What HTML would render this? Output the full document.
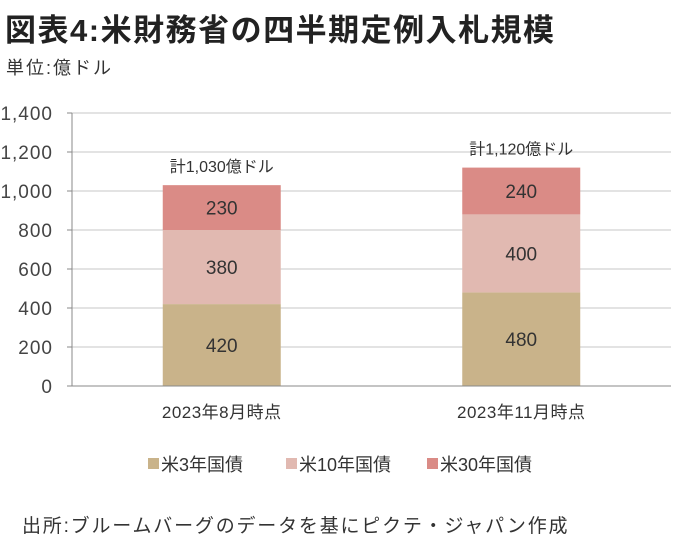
<!DOCTYPE html>
<html><head><meta charset="utf-8">
<style>
body{margin:0;width:684px;height:546px;background:#fff;overflow:hidden;font-family:"Liberation Sans","Noto Sans CJK JP",sans-serif;color:#333}
.t{position:absolute;white-space:nowrap}
</style></head>
<body>
<div class="t" style="left:5px;top:5px;font-size:31px;font-weight:bold;color:#222;letter-spacing:1.5px">図表4:米財務省の四半期定例入札規模</div>
<div class="t" style="left:6px;top:54px;font-size:18px;letter-spacing:2px">単位:億ドル</div>
<svg id="c" width="684" height="546" style="position:absolute;left:0;top:0"></svg>
<div class="t" style="left:22px;top:511px;font-size:19px;letter-spacing:1.8px">出所:ブルームバーグのデータを基にピクテ・ジャパン作成</div>
<script>
const categories=["2023年8月時点","2023年11月時点"];
const s3y=[420,480];
const s10y=[380,400];
const s30y=[230,240];
const totals=["計1,030億ドル","計1,120億ドル"];
const ticks=[0,200,400,600,800,1000,1200,1400];
const tickLabels=["0","200","400","600","800","1,000","1,200","1,400"];
const seriesNames=["米3年国債","米10年国債","米30年国債"];
const colors=["#c9b38a","#e1b9b1","#da8b86"];
const NS="http://www.w3.org/2000/svg";
const svg=document.getElementById('c');
const x0=72,x1=671,y0=386,y1=113;
const y=v=>y0-(v/1400)*(y0-y1);
const band=(x1-x0)/categories.length;
const cx=i=>x0+band*(i+0.5);
const bw=118;
function mk(t,a){const e=document.createElementNS(NS,t);for(const k in a)e.setAttribute(k,a[k]);svg.appendChild(e);return e;}
ticks.forEach((t,i)=>{
 if(t>0){const g=mk('line',{x1:x0,x2:x1,y1:y(t),y2:y(t),stroke:'#e3e3e3','stroke-width':2});
 
 }
 const l=mk('text',{x:53,y:y(t)+7,'text-anchor':'end','font-size':19,fill:'#444','letter-spacing':'1'});l.textContent=tickLabels[i];
 
 
 const tk=mk('line',{x1:x0-5,x2:x0,y1:y(t),y2:y(t),stroke:'#888'});
 
 
});
const series=[s3y,s10y,s30y];
categories.forEach((c,i)=>{
 let base=0;
 series.forEach((s,j)=>{
  const r=mk('rect',{x:cx(i)-bw/2,y:y(base+s[i]),width:bw,height:y(base)-y(base+s[i]),fill:colors[j]});
  
  
  const tx=mk('text',{x:cx(i),y:(y(base)+y(base+s[i]))/2+7,'text-anchor':'middle','font-size':19,fill:'#333'});
  tx.textContent=s[i];
  
  
  base+=s[i];
 });
 const tt=mk('text',{x:cx(i),y:y(base)-13,'text-anchor':'middle','font-size':16,fill:'#333'});
 tt.textContent=totals[i];
 
 
 const xl=mk('text',{x:cx(i),y:418,'text-anchor':'middle','font-size':17,fill:'#333','letter-spacing':'0.5'});
 xl.textContent=c;
 
 
});
const ax=mk('line',{x1:x0,x2:x0,y1:y1,y2:y0,stroke:'#888'});


const bx=mk('line',{x1:x0,x2:x1,y1:y0,y2:y0,stroke:'#888'});


const lx=[148,286,427];
seriesNames.forEach((n,j)=>{
 const r=mk('rect',{x:lx[j],y:458,width:11,height:11,fill:colors[j]});
 
 
 const t=mk('text',{x:lx[j]+13,y:471,'font-size':18,fill:'#333'});t.textContent=n;
 
 
});
</script>
</body></html>
